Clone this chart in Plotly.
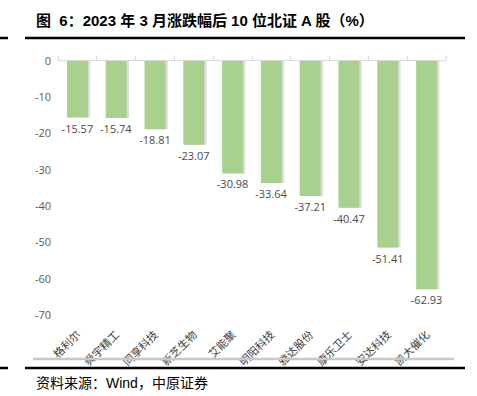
import plotly.graph_objects as go

categories = ["格利尔", "舜宇精工", "同享科技", "新芝生物", "艾能聚",
              "明阳科技", "雅达股份", "康乐卫士", "安达科技", "凯大催化"]
values = [-15.57, -15.74, -18.81, -23.07, -30.98,
          -33.64, -37.21, -40.47, -51.41, -62.93]
y_ticks = [0, -10, -20, -30, -40, -50, -60, -70]

W, H = 477, 396
def px(x): return x / W
def py(y): return 1 - y / H

n = len(categories)
xs = list(range(n))

fig = go.Figure()
# soft shadow behind bars
fig.add_trace(go.Bar(
    x=xs, y=values, width=0.56, offset=-0.23,
    marker=dict(color="rgba(120,120,120,0.25)", line=dict(width=0)),
    hoverinfo="skip", showlegend=False, xaxis="x", yaxis="y",
))
fig.add_trace(go.Bar(
    x=xs, y=values, width=0.54, offset=-0.27,
    marker=dict(color="#a9d18e", line=dict(width=0)),
    text=[f"{v:.2f}" for v in values], textposition="outside",
    constraintext="none", textangle=0,
    textfont=dict(family="Open Sans, Noto Sans CJK SC", size=11, color="#4a4a4a"),
    cliponaxis=False, showlegend=False, xaxis="x", yaxis="y",
))

fig.update_layout(
    width=W, height=H,
    margin=dict(l=0, r=0, t=0, b=0, pad=0, autoexpand=False),
    paper_bgcolor="white", plot_bgcolor="white",
    barmode="overlay",
    xaxis=dict(
        domain=[px(58), px(446)], range=[-0.5, n - 0.5],
        tickmode="array", tickvals=xs, ticktext=categories,
        tickangle=-45, ticklabelstandoff=10,
        tickfont=dict(family="Noto Sans CJK SC", size=11, color="#404040"),
        showline=False, showgrid=False, zeroline=False, ticks="",
        anchor="y", automargin=False,
    ),
    xaxis2=dict(
        domain=[px(58), px(446)], range=[-0.5, n - 0.5],
        overlaying="x", side="top", anchor="y",
        tickmode="array", tickvals=[i - 0.5 for i in range(n + 1)],
        showticklabels=False, ticks="outside", ticklen=4, tickcolor="#d9d9d9",
        showline=True, linecolor="#d9d9d9", linewidth=1,
        showgrid=False, zeroline=False, automargin=False,
    ),
    yaxis=dict(
        domain=[py(315), py(61)], range=[-70, 0],
        tickmode="array", tickvals=y_ticks, ticktext=[str(v) for v in y_ticks],
        tickfont=dict(family="Open Sans, Noto Sans CJK SC", size=11, color="#595959"),
        ticklabelstandoff=6,
        showgrid=False, zeroline=False, showline=False, ticks="", automargin=False,
    ),
)
# invisible trace to activate the top axis
fig.add_trace(go.Scatter(x=[0], y=[0], xaxis="x2", yaxis="y", mode="markers",
                         marker=dict(opacity=0), hoverinfo="skip", showlegend=False))

shapes = [
    dict(type="line", xref="paper", yref="paper", x0=px(25), x1=px(465), y0=py(38), y1=py(38),
         line=dict(color="black", width=2.5)),
    dict(type="line", xref="paper", yref="paper", x0=0, x1=px(8), y0=py(38), y1=py(38),
         line=dict(color="black", width=2.5)),
    dict(type="line", xref="paper", yref="paper", x0=px(33), x1=px(454), y0=py(359), y1=py(359),
         line=dict(color="#c8c8c8", width=2.5)),
    dict(type="line", xref="paper", yref="paper", x0=px(25), x1=px(465), y0=py(368), y1=py(368),
         line=dict(color="black", width=2.5)),
    dict(type="line", xref="paper", yref="paper", x0=0, x1=px(8), y0=py(368), y1=py(368),
         line=dict(color="black", width=2.5)),
]
fig.update_layout(shapes=shapes)

fig.add_annotation(
    text="<b>图  6：2023 年 3 月涨跌幅后 10 位北证 A 股（%）</b>",
    xref="paper", yref="paper", x=px(34), y=py(21), xanchor="left", yanchor="middle",
    showarrow=False, font=dict(family="Liberation Sans, Noto Sans CJK SC", size=15, color="black"),
)
fig.add_annotation(
    text="资料来源：Wind，中原证券",
    xref="paper", yref="paper", x=px(34), y=py(383), xanchor="left", yanchor="middle",
    showarrow=False, font=dict(family="Liberation Sans, Noto Sans CJK SC", size=14, color="black"),
)

fig.write_html(
    "out.html",
    config={"displayModeBar": False},
    post_script="document.body.style.margin='0';document.body.style.overflow='hidden';",
)
